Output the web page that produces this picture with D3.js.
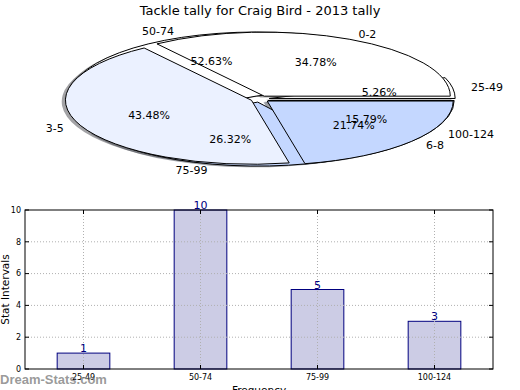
<!DOCTYPE html>
<html>
<head>
<meta charset="utf-8">
<script src="https://cdn.jsdelivr.net/npm/d3@7"></script>
<style>
body { margin: 0; background: #fff; }
svg { display: block; font-family: "DejaVu Sans", sans-serif; }
</style>
</head>
<body>
<div id="chart"></div>
<script>
// chart values
const chartTitle = "Tackle tally for Craig Bird - 2013 tally"
const pieLabelsA = ["0-2", "3-5", "6-8"]
const pieValuesA = [8, 10, 5]
const pieColorsA = ["#FFFFFF", "#EBF1FF", "#C4D7FF"]
const pieLabelsB = ["25-49", "50-74", "75-99", "100-124"]
const pieValuesB = [1, 10, 5, 3]
const pieColorsB = ["#FFFFFF", "#FFFFFF", "#C4D7FF", "#C4D7FF"]
const barCategories = ["25-49", "50-74", "75-99", "100-124"]
const barValues = [1, 10, 5, 3]
const yTicks = [0, 2, 4, 6, 8, 10]

const W = 520, H = 390
const svg = d3.select("#chart").append("svg").attr("width", W).attr("height", H)

svg.append("text")
    .attr("x", 260).attr("y", 15)
    .attr("text-anchor", "middle")
    .style("font-size", "13px")
    .text(chartTitle)

// ---- pie part (two pies in one stretched axes, like matplotlib) ----
const cx = 260, cy = 99, rx = 186, ry = 64
const explode = 0.05
const px = d3.scaleLinear().domain([-1, 1]).range([cx - rx, cx + rx])
const py = d3.scaleLinear().domain([-1, 1]).range([cy + ry, cy - ry])

// d3 angles go clockwise from 12 o'clock, matplotlib goes ccw from 3 o'clock
const pie = d3.pie().sort(null).startAngle(Math.PI / 2).endAngle(Math.PI / 2 - 2 * Math.PI)
const arc = d3.arc().innerRadius(0).outerRadius(1)

function wedges(values, labels, colors) {
    let total = d3.sum(values)
    return pie(values).map((d, i) => {
        let mid = (d.startAngle + d.endAngle) / 2
        let c = Math.sin(mid), s = Math.cos(mid)   // cos/sin of matplotlib angle
        return {
            arc: d, label: labels[i], color: colors[i],
            pct: (100 * values[i] / total).toFixed(2) + "%",
            c: c, s: s, ex: explode * c, ey: explode * s
        }
    })
}
const wa = wedges(pieValuesA, pieLabelsA, pieColorsA)
const wb = wedges(pieValuesB, pieLabelsB, pieColorsB)
const all = wb.concat(wa)

const pieG = svg.append("g")

function shade(col) {
    let c = d3.rgb(col)
    return d3.rgb(c.r * 0.3, c.g * 0.3, c.b * 0.3)
}

// shadows sit under every wedge
pieG.selectAll("path.shadow")
    .data(all)
    .enter().append("path")
    .attr("class", "shadow")
    .attr("transform", d => `translate(${px(d.ex - 0.02)},${py(d.ey - 0.02)}) scale(${rx},${ry})`)
    .attr("d", d => arc(d.arc))
    .attr("fill", d => shade(d.color))
    .attr("fill-opacity", 0.5)

pieG.selectAll("path.wedge")
    .data(all)
    .enter().append("path")
    .attr("class", "wedge")
    .attr("transform", d => `translate(${px(d.ex)},${py(d.ey)}) scale(${rx},${ry})`)
    .attr("d", d => arc(d.arc))
    .attr("fill", d => d.color)
    .attr("stroke", "#000")
    .attr("stroke-width", 1)
    .attr("vector-effect", "non-scaling-stroke")

pieG.selectAll("text.lab")
    .data(all)
    .enter().append("text")
    .attr("class", "lab")
    .attr("x", d => px(d.ex + 1.1 * d.c))
    .attr("y", d => py(d.ey + 1.1 * d.s))
    .attr("dy", "0.35em")
    .attr("text-anchor", d => d.c > 0 ? "start" : "end")
    .style("font-size", "11px")
    .text(d => d.label)

pieG.selectAll("text.pct")
    .data(all)
    .enter().append("text")
    .attr("class", "pct")
    .attr("x", d => px(d.ex + 0.6 * d.c))
    .attr("y", d => py(d.ey + 0.6 * d.s))
    .attr("dy", "0.35em")
    .attr("text-anchor", "middle")
    .style("font-size", "11px")
    .text(d => d.pct)

// ---- bar part ----
const axLeft = 25, axRight = 493, axTop = 210, axBottom = 369
const x = d3.scaleLinear().domain([0, barCategories.length]).range([axLeft, axRight])
const y = d3.scaleLinear().domain([0, 10]).range([axBottom, axTop])
const barW = 0.45

const barG = svg.append("g")

barG.selectAll("rect.bar")
    .data(barValues)
    .enter().append("rect")
    .attr("class", "bar")
    .attr("x", (d, i) => x(i + 0.5 - barW / 2))
    .attr("y", d => y(d))
    .attr("width", x(barW) - x(0))
    .attr("height", d => y(0) - y(d))
    .attr("fill", "#CCCCE5")
    .attr("stroke", "#00007F")
    .attr("stroke-width", 1)

// dotted grid over the bars
barG.selectAll("line.gx")
    .data(barCategories)
    .enter().append("line")
    .attr("x1", (d, i) => x(i + 0.5)).attr("x2", (d, i) => x(i + 0.5))
    .attr("y1", axTop).attr("y2", axBottom)
    .attr("stroke", "#b0b0b0").attr("stroke-dasharray", "1,2")

barG.selectAll("line.gy")
    .data(yTicks.slice(1, -1))
    .enter().append("line")
    .attr("x1", axLeft).attr("x2", axRight)
    .attr("y1", d => y(d)).attr("y2", d => y(d))
    .attr("stroke", "#b0b0b0").attr("stroke-dasharray", "1,2")

barG.append("rect")
    .attr("x", axLeft).attr("y", axTop)
    .attr("width", axRight - axLeft).attr("height", axBottom - axTop)
    .attr("fill", "none").attr("stroke", "#000")

// inward ticks on all four sides
yTicks.forEach(t => {
    barG.append("line").attr("x1", axLeft).attr("x2", axLeft + 4).attr("y1", y(t)).attr("y2", y(t)).attr("stroke", "#000")
    barG.append("line").attr("x1", axRight).attr("x2", axRight - 4).attr("y1", y(t)).attr("y2", y(t)).attr("stroke", "#000")
})
barCategories.forEach((c, i) => {
    barG.append("line").attr("x1", x(i + 0.5)).attr("x2", x(i + 0.5)).attr("y1", axBottom).attr("y2", axBottom - 4).attr("stroke", "#000")
    barG.append("line").attr("x1", x(i + 0.5)).attr("x2", x(i + 0.5)).attr("y1", axTop).attr("y2", axTop + 4).attr("stroke", "#000")
})

barG.selectAll("text.yt")
    .data(yTicks)
    .enter().append("text")
    .attr("x", axLeft - 4).attr("y", d => y(d)).attr("dy", "0.35em")
    .attr("text-anchor", "end")
    .style("font-size", "8px")
    .text(d => d)

barG.selectAll("text.xt")
    .data(barCategories)
    .enter().append("text")
    .attr("x", (d, i) => x(i + 0.5)).attr("y", axBottom + 11)
    .attr("text-anchor", "middle")
    .style("font-size", "8px")
    .text(d => d)

barG.selectAll("text.val")
    .data(barValues)
    .enter().append("text")
    .attr("x", (d, i) => x(i + 0.5)).attr("y", d => y(d) - 1)
    .attr("text-anchor", "middle")
    .attr("fill", "#00007F")
    .style("font-size", "11px")
    .text(d => d)

svg.append("text")
    .attr("transform", `translate(9,${(axTop + axBottom) / 2}) rotate(-90)`)
    .attr("text-anchor", "middle")
    .style("font-size", "10.5px")
    .text("Stat Intervals")

svg.append("text")
    .attr("x", (axLeft + axRight) / 2).attr("y", 394)
    .attr("text-anchor", "middle")
    .style("font-size", "10.5px")
    .text("Frequency")

svg.append("text")
    .attr("x", 0).attr("y", 384)
    .attr("fill", "#808080").attr("fill-opacity", 0.8)
    .style("font-family", "'Liberation Sans', Arial, sans-serif")
    .style("font-size", "13px").style("font-weight", "bold")
    .text("Dream-Stats.com")
</script>
</body>
</html>
